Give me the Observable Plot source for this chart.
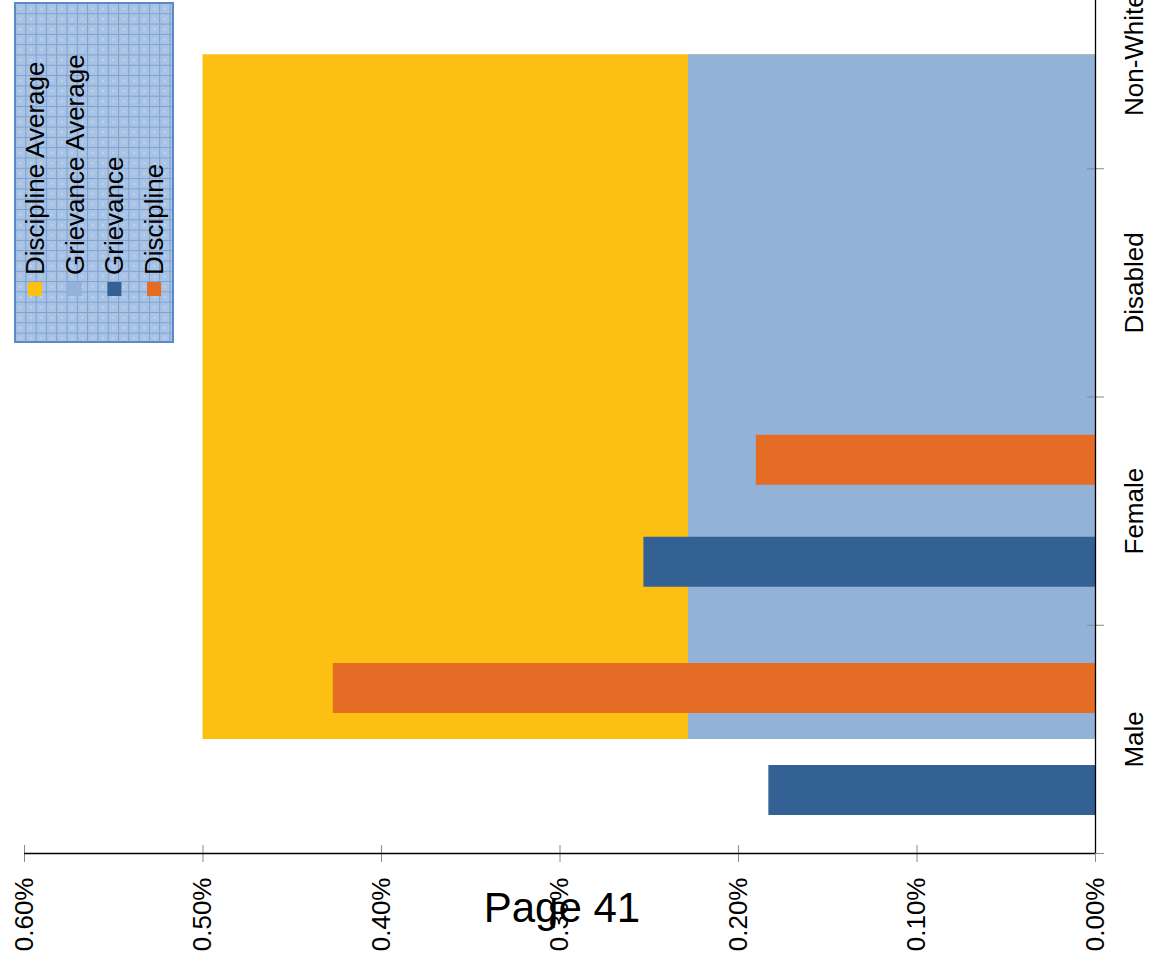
<!DOCTYPE html>
<html>
<head>
<meta charset="utf-8">
<script src="https://cdn.jsdelivr.net/npm/d3@7"></script>
<script src="https://cdn.jsdelivr.net/npm/@observablehq/plot@0.6"></script>
<style>
  html, body { margin: 0; padding: 0; background: #fff; overflow: hidden; }
  #chart { position: relative; width: 1149px; height: 962px; }
</style>
</head>
<body>
<div id="chart"></div>
<script>
// Rates per protected group (share of staff), with the organisation-wide averages
const categories = ["Male", "Female", "Disabled", "Non-White"];
const grievance  = [0.00183, 0.00253, 0, 0];
const discipline = [0.00427, 0.00190, 0, 0];
const grievanceAverage  = 0.00228;
const disciplineAverage = 0.00500;
const valueTicks = [0, 0.001, 0.002, 0.003, 0.004, 0.005, 0.006];
const seriesNames = ["Discipline Average", "Grievance Average", "Grievance", "Discipline"];
const pageLabel = "Page 41";

const colors = {
  "Discipline Average": "#FBC012",
  "Grievance Average": "#93B2D7",
  "Grievance": "#336193",
  "Discipline": "#E46C24"
};

const W = 1149, H = 962;
const font = "'Liberation Sans', Arial, Helvetica, sans-serif";

const rows = categories.map((c, i) => ({ category: c, i, grievance: grievance[i], discipline: discipline[i] }));
const avgRows = categories.map((c, i) => ({ i, g: grievanceAverage, d: disciplineAverage }));

// bar slots inside each category band (band runs i-0.5 .. i+0.5)
const barW = 0.219;
const gOff = 0.1665, dOff = 0.6134;
const pct = d3.format(".2%");

const chart = Plot.plot({
  width: W,
  height: H,
  marginLeft: 24,
  marginRight: 54,
  marginTop: 0,
  marginBottom: 109,
  style: { fontFamily: font, fontSize: "26px", color: "#000", background: "#fff" },
  x: { domain: [0.006, 0], range: [24, 1095], label: null },
  y: { type: "linear", domain: [-0.5, 3.5], range: [853, -60], label: null },
  marks: [
    // average levels as filled areas across the categories
    Plot.areaX(avgRows, { y: "i", x: "d", fill: colors["Discipline Average"] }),
    Plot.areaX(avgRows, { y: "i", x: "g", fill: colors["Grievance Average"] }),
    // group bars
    Plot.rectX(rows, {
      x1: 0, x2: "grievance",
      y1: d => d.i - 0.5 + gOff, y2: d => d.i - 0.5 + gOff + barW,
      fill: colors["Grievance"]
    }),
    Plot.rectX(rows, {
      x1: 0, x2: "discipline",
      y1: d => d.i - 0.5 + dOff, y2: d => d.i - 0.5 + dOff + barW,
      fill: colors["Discipline"]
    }),
    // value axis: crossing tick marks and rotated labels
    Plot.axisX({ anchor: "bottom", ticks: valueTicks, tickSize: 17, dy: -8, tickFormat: () => "", stroke: "#888", label: null }),
    Plot.axisX({ anchor: "bottom", ticks: valueTicks, tickSize: 0, tickPadding: 24, tickRotate: -90, tickFormat: pct, fontSize: 26, label: null }),
    // category axis: crossing tick marks at band edges and rotated labels
    Plot.axisY({ anchor: "right", ticks: [-0.5, 0.5, 1.5, 2.5], tickSize: 17, dx: -9, tickFormat: () => "", stroke: "#888", label: null }),
    Plot.axisY({ anchor: "right", ticks: [0, 1, 2, 3], tickSize: 0, tickPadding: 47, tickRotate: -90, tickFormat: i => categories[i], fontSize: 26, label: null }),
    // axis lines
    Plot.ruleX([0], { stroke: "#000", strokeWidth: 1.3 }),
    Plot.ruleY([-0.5], { stroke: "#000", strokeWidth: 1.3 })
  ]
});

document.getElementById("chart").appendChild(chart);

// legend box with a fine grid fill, placed inside the plot area
const svg = d3.select(chart);
const defs = svg.append("defs");
const pat = defs.append("pattern")
  .attr("id", "legend-grid")
  .attr("patternUnits", "userSpaceOnUse")
  .attr("x", 15).attr("y", 3)
  .attr("width", 10.3).attr("height", 10.3);
pat.append("rect").attr("width", 10.3).attr("height", 10.3).attr("fill", "#A9C3E4");
pat.append("path").attr("d", "M0,0.5H10.3M0.5,0V10.3").attr("stroke", "#7BA0D2").attr("stroke-width", 1);
pat.append("circle").attr("cx", 5.6).attr("cy", 5.6).attr("r", 0.7).attr("fill", "#E8F0FA");

const legend = svg.append("g").attr("font-family", font).attr("font-size", 26);
legend.append("rect")
  .attr("x", 15).attr("y", 3).attr("width", 158).attr("height", 339)
  .attr("fill", "url(#legend-grid)")
  .attr("stroke", "#5B8AC9").attr("stroke-width", 2);

seriesNames.forEach((name, k) => {
  const cx = 35 + k * 39.7;
  legend.append("rect")
    .attr("x", cx - 7).attr("y", 282).attr("width", 14).attr("height", 14)
    .attr("fill", colors[name]);
  legend.append("text")
    .attr("transform", `translate(${cx + 9},275) rotate(-90)`)
    .attr("text-anchor", "start")
    .attr("fill", "#000")
    .text(name);
});

// page footer
svg.append("text")
  .attr("x", 562).attr("y", 922)
  .attr("text-anchor", "middle")
  .attr("font-family", font)
  .attr("font-size", 42)
  .attr("fill", "#000")
  .text(pageLabel);
</script>
</body>
</html>
